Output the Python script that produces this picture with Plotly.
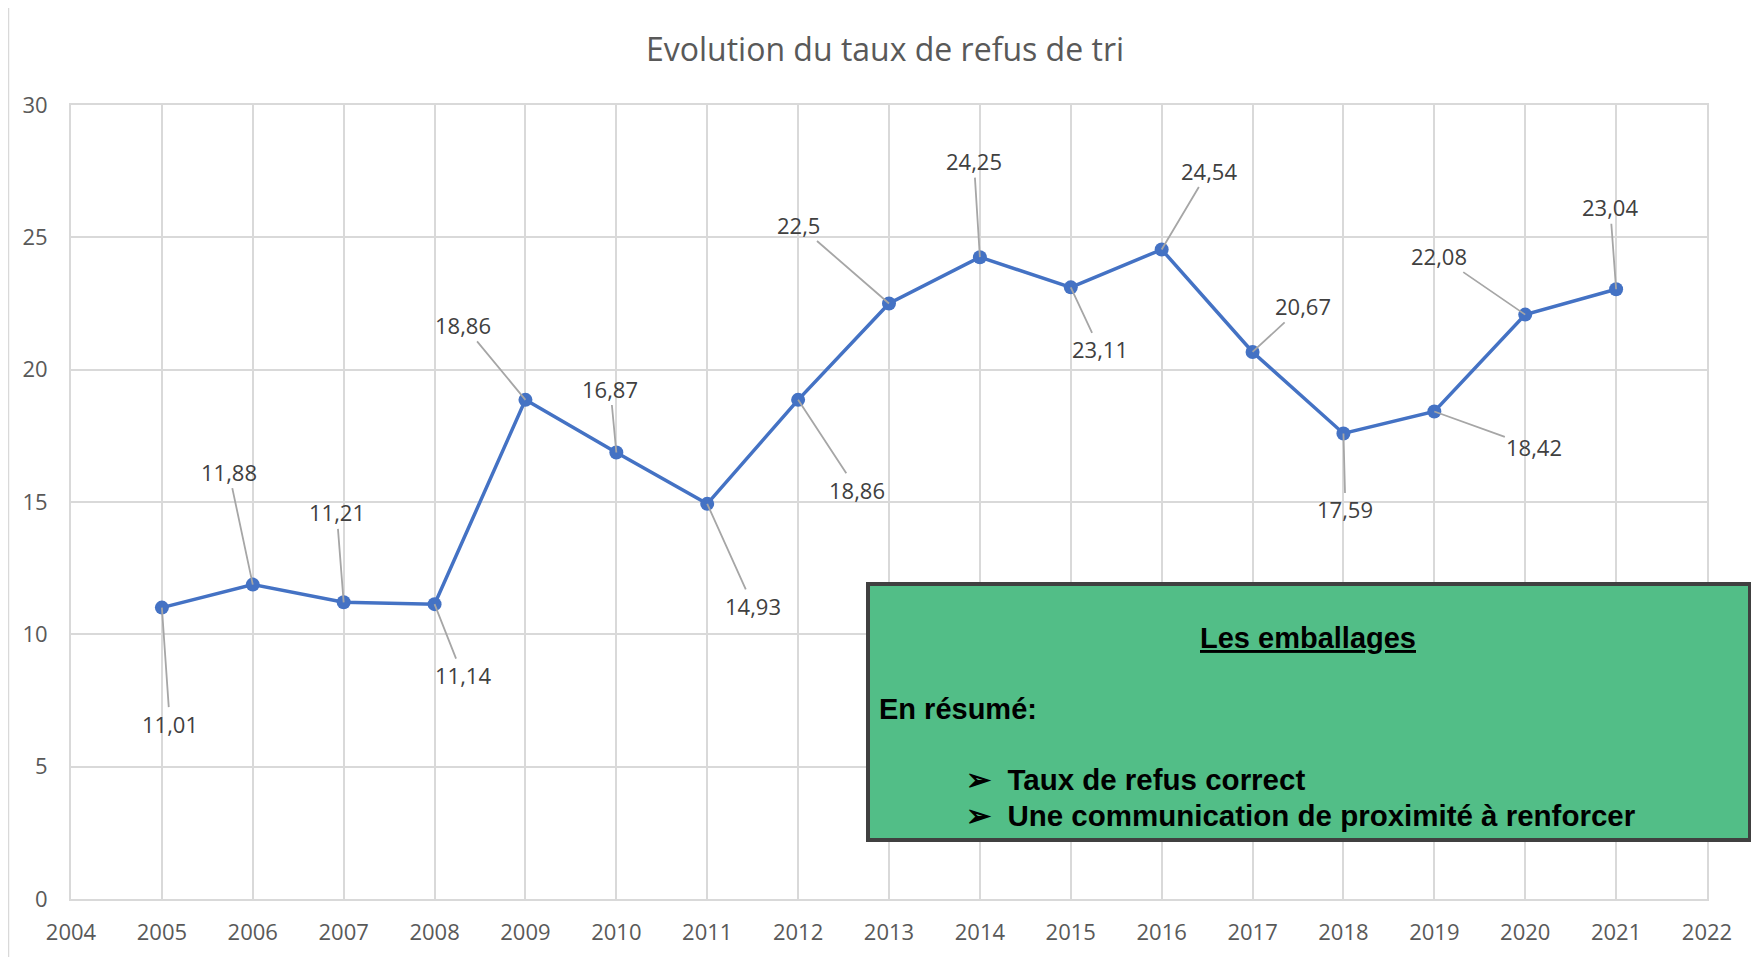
import plotly.graph_objects as go

years = [2005, 2006, 2007, 2008, 2009, 2010, 2011, 2012, 2013, 2014, 2015, 2016, 2017, 2018, 2019, 2020, 2021]
taux = [11.01, 11.88, 11.21, 11.14, 18.86, 16.87, 14.93, 18.86, 22.5, 24.25, 23.11, 24.54, 20.67, 17.59, 18.42, 22.08, 23.04]
labels = ["11,01", "11,88", "11,21", "11,14", "18,86", "16,87", "14,93", "18,86", "22,5", "24,25",
          "23,11", "24,54", "20,67", "17,59", "18,42", "22,08", "23,04"]
# label offsets in pixels (text centre relative to point)
label_dx = [8, -24, -7, 28, -62, -6, 46, 59, -91, -6, 29, 47, 50, 2, 100, -86, -6]
label_dy = [116, -113, -90, 71, -75, -64, 102, 90, -79, -96, 62, -79, -46, 76, 36, -59, -82]

title = "Evolution du taux de refus de tri"
box_title = "Les emballages"
box_sub = "En résumé:"
box_items = ["Taux de refus correct", "Une communication de proximité à renforcer"]

W, H = 1759, 957
OFF = 8  # page body margin
L, R, T, B = 71 - OFF, 52 + OFF, 105 - OFF, 58 + OFF
pw, ph = W - L - R, H - T - B

def px_x(x):
    return (x - OFF - L) / pw

def px_y(y):
    return (H - B - (y - OFF)) / ph

fig = go.Figure()
fig.add_trace(go.Scatter(
    x=years, y=taux, mode="lines+markers",
    line=dict(color="#4472C4", width=3.5),
    marker=dict(color="#4472C4", size=14),
    hoverinfo="x+y", showlegend=False,
))

annotations = []
for x, y, t, dx, dy in zip(years, taux, labels, label_dx, label_dy):
    annotations.append(dict(
        x=x, y=y, xref="x", yref="y", text=t, showarrow=True,
        ax=dx, ay=dy, arrowhead=0, arrowwidth=1.8, arrowcolor="#A6A6A6",
        standoff=0, font=dict(family="Open Sans", size=22, color="#404040"),
    ))

# summary box texts
annotations.append(dict(
    x=px_x(1308), y=px_y(638), xref="paper", yref="paper", showarrow=False,
    text="<u><b>" + box_title + "</b></u>", xanchor="center", yanchor="middle",
    font=dict(family="Liberation Sans", size=29, color="#000000"),
))
annotations.append(dict(
    x=px_x(877), y=px_y(709), xref="paper", yref="paper", showarrow=False,
    text="<b>" + box_sub + "</b>", xanchor="left", yanchor="middle",
    font=dict(family="Liberation Sans", size=29, color="#000000"),
))
for i, item in enumerate(box_items):
    annotations.append(dict(
        x=px_x(964), y=px_y(779 + 36 * i), xref="paper", yref="paper", showarrow=False,
        text="<b>➢  " + item + "</b>", xanchor="left", yanchor="middle",
        font=dict(family="Liberation Sans", size=29.5, color="#000000"),
    ))

shapes = [
    # outer chart border
    dict(type="rect", xref="paper", yref="paper",
         x0=px_x(8), x1=px_x(1775), y0=px_y(975), y1=px_y(5),
         line=dict(color="#D9D9D9", width=2.5), fillcolor="rgba(0,0,0,0)", layer="below"),
    # summary box
    dict(type="rect", xref="paper", yref="paper",
         x0=px_x(868), x1=px_x(1750), y0=px_y(840), y1=px_y(584),
         line=dict(color="#404040", width=4), fillcolor="#52BE87", layer="above"),
]

fig.update_layout(
    width=W, height=H,
    margin=dict(l=L, r=R, t=T, b=B),
    paper_bgcolor="white", plot_bgcolor="white",
    title=dict(text=title, x=(885 - OFF) / W, xanchor="center", y=1 - (50 - OFF) / H, yanchor="middle",
               yref="container", font=dict(family="Open Sans", size=32, color="#595959")),
    xaxis=dict(range=[2004, 2022], dtick=1, tick0=2004, showgrid=True, gridcolor="#D9D9D9",
               gridwidth=2, zeroline=False, showline=True, linecolor="#D9D9D9", linewidth=2,
               mirror=True, ticks="", ticklabelstandoff=13,
               tickfont=dict(family="Open Sans", size=22, color="#595959")),
    yaxis=dict(range=[0, 30], dtick=5, showgrid=True, gridcolor="#D9D9D9", gridwidth=2,
               zeroline=False, showline=True, linecolor="#D9D9D9", linewidth=2,
               mirror=True, ticks="", ticklabelstandoff=17,
               tickfont=dict(family="Open Sans", size=22, color="#595959")),
    annotations=annotations,
    shapes=shapes,
)

fig.write_html("out.html")
